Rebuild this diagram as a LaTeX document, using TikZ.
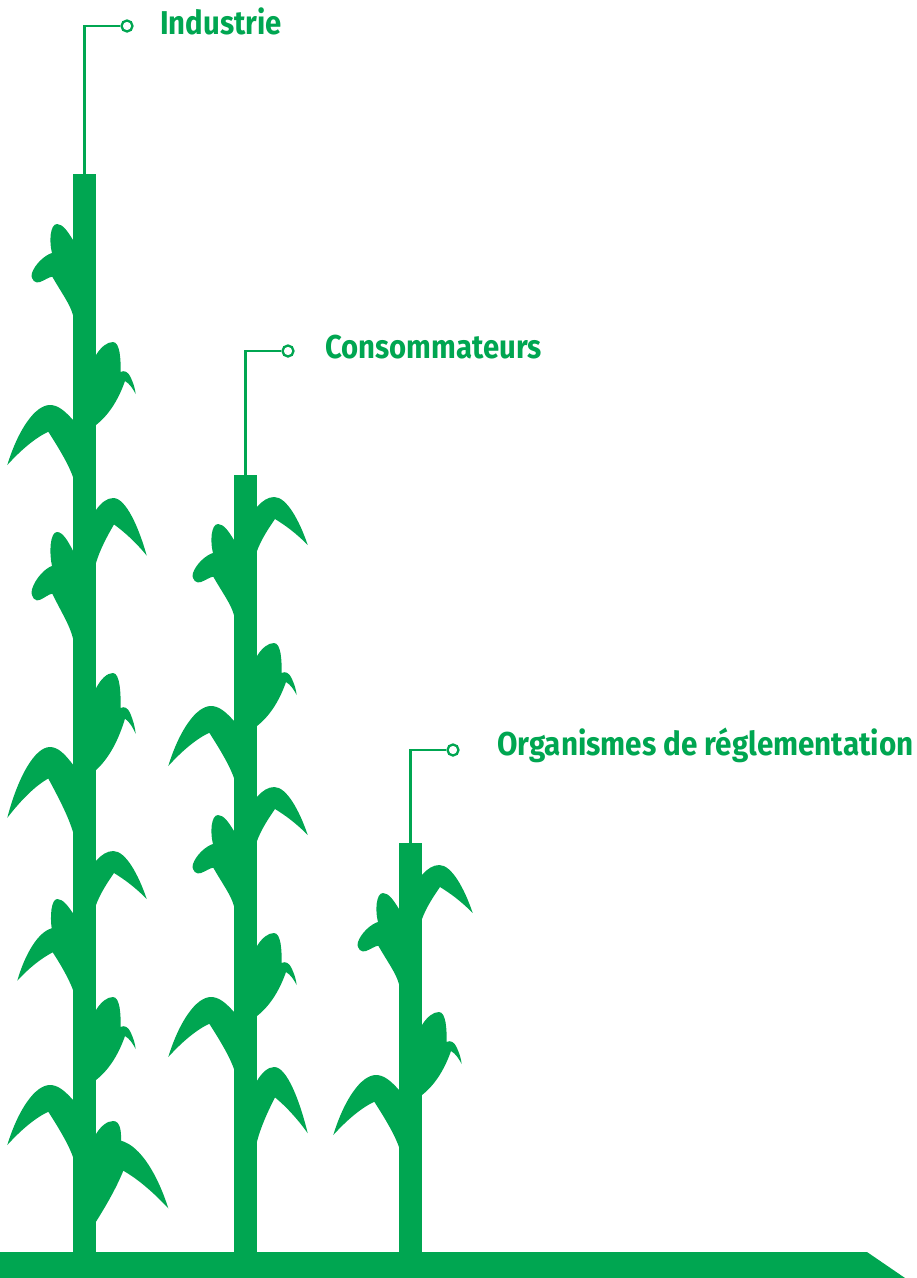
\documentclass[tikz,border=0pt]{standalone}
\usepackage{fontspec}
\setmainfont{Fira Sans}
\definecolor{leafgreen}{RGB}{0,166,81}
\newcommand{\narrowtext}[2][0.888]{\scalebox{#1}[1]{#2}}
\tikzset{
  stemfill/.style={fill=leafgreen},
  leaffill/.style={fill=leafgreen},
  conn/.style={draw=leafgreen, line width=2.3pt},
  dot/.style={circle, draw=leafgreen, fill=white, line width=2.3pt, minimum size=11pt, inner sep=0pt},
  lbl/.style={anchor=base west, inner sep=0pt, text=leafgreen, font=\bfseries\fontsize{33}{40}\selectfont},
  leafA/.pic={\fill[leaffill] (2,16) -- (0,16) .. controls (-5,8) and (-10,0) .. (-16,0) .. controls (-23,0) and (-24,18) .. (-21,29) .. controls (-28,31) and (-38,40) .. (-41,49) .. controls (-43,56) and (-37,60) .. (-33,58) .. controls (-28,56) and (-24,53) .. (-20.7,52.7) .. controls (-12,68) and (-3,80) .. (0,91) -- (2,91) -- cycle;},
  leafB/.pic={\fill[leaffill] (-2,13) -- (0,13) .. controls (5,5) and (11,0) .. (17,0) .. controls (24,0) and (25,18) .. (24.5,30) .. controls (28,28) and (32,30) .. (34,34) .. controls (37,40) and (39,46) .. (39.7,52) .. controls (37,47) and (34,42) .. (29,39) .. controls (23,56) and (14,72) .. (0,83) -- (-2,83) -- cycle;},
  leafC/.pic={\fill[leaffill] (2,15) -- (0,15) .. controls (-8,6) and (-15,0) .. (-23,0) .. controls (-38,0) and (-55,25) .. (-65.7,60) .. controls (-52,45) and (-38,33) .. (-24.7,26.7) .. controls (-15,42) and (-5,58) .. (0,72) -- (2,72) -- cycle;},
  leafD/.pic={\fill[leaffill] (-2,10) -- (0,10) .. controls (5,4) and (11,0) .. (17.3,0) .. controls (30,0) and (43,25) .. (50.7,48) .. controls (40,37) and (28,28) .. (18,22) .. controls (11,32) and (4,43) .. (0,54) -- (-2,54) -- cycle;},
  leafE/.pic={\fill[leaffill] (2,14.3) -- (0,14.3) .. controls (-5,7) and (-10,0) .. (-15.7,0) .. controls (-22,0) and (-23,18) .. (-21.3,29.3) .. controls (-35,33) and (-48,55) .. (-55.7,81.7) .. controls (-45,70) and (-33,60) .. (-20.3,53.3) .. controls (-12,66) and (-4,80) .. (0,91) -- (2,91) -- cycle;},
  leafF/.pic={\fill[leaffill] (-2,13) -- (0,13) .. controls (5,5) and (11,0) .. (17.3,0) .. controls (24,0) and (25.5,10) .. (25,19.7) .. controls (45,25) and (62,55) .. (72.3,87.3) .. controls (58,72) and (42,58) .. (27.3,49.7) .. controls (20,68) and (8,88) .. (0,100.7) -- (-2,100.7) -- cycle;}
}
\begin{document}
\begin{tikzpicture}[x=1pt, y=-1pt]
\useasboundingbox (0,0) rectangle (917,1278);
% ground
\fill[stemfill] (0,1252) -- (867,1252) -- (905,1278) -- (0,1278) -- cycle;
% stems
\fill[stemfill] (73,174) rectangle (96,1253);
\fill[stemfill] (234,475) rectangle (257,1253);
\fill[stemfill] (399,843) rectangle (422,1253);
% stem 1 leaves
\pic at (73,224) {leafA};
\pic at (96,342) {leafB};
\pic at (73,405) {leafC};
\pic[yscale=1.2] at (96,498) {leafD};
\pic[yscale=1.17] at (73,532) {leafA};
\pic[yscale=1.17] at (96,673) {leafB};
\pic[yscale=1.18] at (73,747) {leafC};
\pic at (96,851) {leafD};
\pic at (73,899) {leafE};
\pic at (96,997) {leafB};
\pic at (73,1085) {leafC};
\pic at (96,1121) {leafF};
% stem 2 leaves
\pic at (257,497) {leafD};
\pic at (234,524) {leafA};
\pic at (257,643) {leafB};
\pic at (234,706) {leafC};
\pic at (257,787) {leafD};
\pic at (234,815) {leafA};
\pic at (257,933) {leafB};
\pic at (234,997) {leafC};
\pic[yscale=1.38] at (257,1067) {leafD};
% stem 3 leaves
\pic at (422,865) {leafD};
\pic at (399,893) {leafA};
\pic at (422,1012) {leafB};
\pic at (399,1075) {leafC};
% labels
\coordinate (s1) at (84.5,174);
\coordinate (s2) at (245.5,475);
\coordinate (s3) at (410.5,843);
\node[dot] (c1) at (127,26) {};
\node[dot] (c2) at (288,351) {};
\node[dot] (c3) at (453,750) {};
\draw[conn] (s1) |- (c1.west);
\draw[conn] (s2) |- (c2.west);
\draw[conn] (s3) |- (c3.west);
\node[lbl] (t1) at (160,34) {\narrowtext{Industrie}};
\node[lbl] (t2) at (325,358) {\narrowtext{Consommateurs}};
\node[lbl] (t3) at (497,755) {\narrowtext[0.898]{Organismes de réglementation}};
\end{tikzpicture}
\end{document}
